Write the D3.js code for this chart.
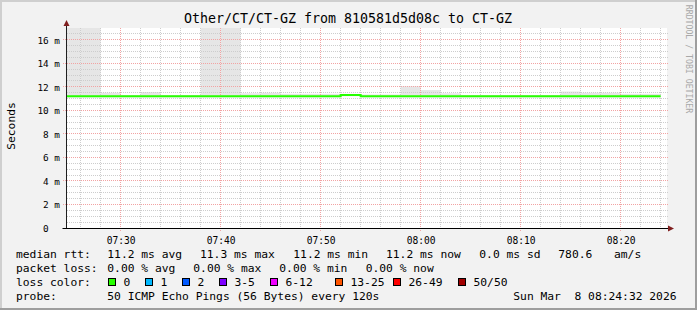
<!DOCTYPE html>
<html>
<head>
<meta charset="utf-8">
<script src="https://cdn.jsdelivr.net/npm/d3@7"></script>
<style>
  body { margin: 0; background: #f2f2f2; }
  svg { display: block; }
  text { font-family: "DejaVu Sans Mono", monospace; white-space: pre; fill: #000; }
</style>
</head>
<body>
<svg id="chart"></svg>
<script>
// one entry per 120s step (start time of the step)
var stepStarts = ["07:24", "07:26", "07:28", "07:30", "07:32", "07:34", "07:36", "07:38", "07:40", "07:42",
                  "07:44", "07:46", "07:48", "07:50", "07:52", "07:54", "07:56", "07:58", "08:00", "08:02",
                  "08:04", "08:06", "08:08", "08:10", "08:12", "08:14", "08:16", "08:18", "08:20", "08:22"];
var medianMs   = [11.2, 11.2, 11.2, 11.2, 11.2, 11.2, 11.2, 11.2, 11.2, 11.2,
                  11.2, 11.2, 11.2, 11.2, 11.3, 11.2, 11.2, 11.2, 11.2, 11.2,
                  11.2, 11.2, 11.2, 11.2, 11.2, 11.2, 11.2, 11.2, 11.2, 11.2];
var smokeLowMs = [11.1, 11.1, 11.1, 11.1, 11.1, 11.1, 11.1, 11.1, 11.1, 11.1,
                  11.1, 11.1, 11.1, 11.1, 11.2, 11.1, 11.1, 11.1, 11.1, 11.1,
                  11.1, 11.1, 11.1, 11.1, 11.1, 11.1, 11.1, 11.1, 11.1, 11.1];
var smokeHighMs = [25, 25, 11.5, 11.3, 11.55, 11.3, 11.3, 25, 25, 11.45,
                   11.5, 11.4, 11.4, 11.4, 11.4, 11.35, 11.35, 12.05, 11.72, 11.45,
                   11.3, 11.3, 11.3, 11.3, 11.3, 11.6, 11.5, 11.5, 11.4, 11.4];

var yTicks = [0, 2, 4, 6, 8, 10, 12, 14, 16];
var xTicks = ["07:30", "07:40", "07:50", "08:00", "08:10", "08:20"];

var lossLabels = ["0", "1", "2", "3-5", "6-12", "13-25", "26-49", "50/50"];
var lossColors = ["#26ff00", "#00b8ff", "#0059ff", "#7e00ff", "#ee00ff", "#ff5500", "#ff0000", "#a10000"];

var title = "Other/CT/CT-GZ from 810581d5d08c to CT-GZ";
var rttStats = ["11.2 ms avg", "11.3 ms max", "11.2 ms min", "11.2 ms now", "0.0 ms sd", "780.6", "am/s"];
var lossStats = ["0.00 % avg", "0.00 % max", "0.00 % min", "0.00 % now"];
var probeText = "50 ICMP Echo Pings (56 Bytes) every 120s";
var stampText = "Sun Mar  8 08:24:32 2026";

var w = 697, h = 310;
var pL = 67, pR = 667, pT = 28, pB = 228;

var parse = d3.utcParse("%Y-%m-%d %H:%M");
function t(s) { return parse("2026-03-08 " + s); }
var tStart = new Date(Date.UTC(2026, 2, 8, 7, 24, 38));
var tEnd = new Date(Date.UTC(2026, 2, 8, 8, 24, 38));
var stepMs = 120000;

var x = d3.scaleUtc().domain([tStart, tEnd]).range([pL, pR]);
var y = d3.scaleLinear().domain([0, 17]).range([pB, pT]);

function px(v) { return Math.round(v - 0.5) + 0.5; }

var svg = d3.select("#chart").attr("width", w).attr("height", h);

// background + 3d frame
svg.append("rect").attr("width", w).attr("height", h).attr("fill", "#f2f2f2");
svg.append("path").attr("d", "M0,1H697M1,0V310").attr("stroke", "#cfcfcf").attr("stroke-width", 2);
svg.append("path").attr("d", "M0,309H697M696,0V310").attr("stroke", "#9e9e9e").attr("stroke-width", 2);

svg.append("rect").attr("x", pL).attr("y", pT).attr("width", pR - pL).attr("height", pB - pT)
  .attr("fill", "#fff");

svg.append("clipPath").attr("id", "plot").append("rect")
  .attr("x", pL).attr("y", pT).attr("width", pR - pL).attr("height", pB - pT);

// smoke
svg.append("g").attr("clip-path", "url(#plot)")
  .selectAll("rect").data(stepStarts).enter().append("rect")
    .attr("x", function (d) { return x(t(d)); })
    .attr("width", function (d) { return x(new Date(+t(d) + stepMs)) - x(t(d)); })
    .attr("y", function (d, i) { return y(smokeHighMs[i]); })
    .attr("height", function (d, i) { return y(smokeLowMs[i]) - y(smokeHighMs[i]); })
    .attr("fill", "#e6e6e6");

// grid (major lines poke out past the axes like rrdtool's)
var grid = svg.append("g").attr("stroke-dasharray", "1,1").attr("stroke-width", 1).attr("fill", "none");
var minorY = d3.range(0.5, 16.6, 0.5).filter(function (v) { return v % 2 !== 0; });
grid.selectAll(".hminor").data(minorY).enter().append("line")
  .attr("x1", pL).attr("x2", pR + 2)
  .attr("y1", function (d) { return px(y(d)); }).attr("y2", function (d) { return px(y(d)); })
  .attr("stroke", "#cdcdcd");
var minorX = d3.utcMinute.every(2).range(t("07:26"), t("08:25")).filter(function (d) { return d.getUTCMinutes() % 10 !== 0; });
grid.selectAll(".vminor").data(minorX).enter().append("line")
  .attr("x1", function (d) { return px(x(d)); }).attr("x2", function (d) { return px(x(d)); })
  .attr("y1", pT).attr("y2", pB)
  .attr("stroke", "#cdcdcd");
grid.selectAll(".hmajor").data(yTicks.slice(1)).enter().append("line")
  .attr("x1", 63).attr("x2", pR + 2)
  .attr("y1", function (d) { return px(y(d)); }).attr("y2", function (d) { return px(y(d)); })
  .attr("stroke", "#f2a3a3");
grid.selectAll(".vmajor").data(xTicks).enter().append("line")
  .attr("x1", function (d) { return px(x(t(d))); }).attr("x2", function (d) { return px(x(t(d))); })
  .attr("y1", pT).attr("y2", pB + 4)
  .attr("stroke", "#f2a3a3");

// median line, coloured by loss (all 0 here)
var pts = stepStarts.map(function (d, i) { return [t(d), medianMs[i]]; });
pts.push([new Date(+t(stepStarts[stepStarts.length - 1]) + stepMs), medianMs[medianMs.length - 1]]);
var line = d3.line().x(function (d) { return x(d[0]); }).y(function (d) { return y(d[1]); }).curve(d3.curveStepAfter);
svg.append("path").attr("clip-path", "url(#plot)").datum(pts).attr("d", line)
  .attr("fill", "none").attr("stroke", lossColors[0]).attr("stroke-width", 2);

// axes
var yAxis = d3.axisLeft(y).tickValues(yTicks).tickSize(0).tickPadding(6)
  .tickFormat(function (d) { return d === 0 ? "0  " : d + " m"; });
var gy = svg.append("g").attr("transform", "translate(" + 66 + ",0)").call(yAxis);
gy.select(".domain").remove();
gy.selectAll("text").attr("font-size", "9.4px").attr("x", -6).attr("dy", "0.36em").attr("fill", "#000");

var xAxis = d3.axisBottom(x).tickValues(xTicks.map(t)).tickSize(0).tickPadding(9)
  .tickFormat(d3.utcFormat("%H:%M"));
var gx = svg.append("g").attr("transform", "translate(0," + pB + ")").call(xAxis);
gx.select(".domain").remove();
gx.selectAll("text").attr("font-size", "9.6px").attr("dy", "0.7em").attr("fill", "#000");

svg.append("path").attr("d", "M66.5,228.5V25").attr("stroke", "#1f1f1f").attr("stroke-width", 1);
svg.append("path").attr("d", "M62.5,228.5H668").attr("stroke", "#000").attr("stroke-width", 1);
svg.append("path").attr("d", "M63.5,26L69.5,26L66.5,20Z").attr("fill", "#801f1f");
svg.append("path").attr("d", "M668,225.5L668,231.5L674,228.5Z").attr("fill", "#801f1f");

// titles
svg.append("text").attr("x", 348).attr("y", 23).attr("text-anchor", "middle").attr("font-size", "13.3px").text(title);
svg.append("text").attr("transform", "translate(14.5,126) rotate(-90)").attr("text-anchor", "middle")
  .attr("font-size", "11.3px").text("Seconds");
svg.append("text").attr("transform", "translate(685.5,59) rotate(90)").attr("text-anchor", "middle")
  .attr("font-size", "8.2px").style("fill", "#a8a8a8").text("RRDTOOL / TOBI OETIKER");

// legend
var lg = svg.append("g").attr("font-size", "11.3px");
function put(tx, xx, yy) { lg.append("text").attr("x", xx).attr("y", yy).text(tx); }
put("median rtt:", 16, 257.5);
[107.3, 200, 293.3, 386, 479.3, 558.3, 614].forEach(function (xx, i) { put(rttStats[i], xx, 257.5); });
put("packet loss:", 16, 271.5);
[107.3, 193.3, 279.3, 365.7].forEach(function (xx, i) { put(lossStats[i], xx, 271.5); });
put("loss color:", 16, 285.5);
var boxX = [108.5, 145.5, 182.5, 219.5, 270.5, 335.5, 393.5, 458.5];
lossLabels.forEach(function (lab, i) {
  lg.append("rect").attr("x", boxX[i]).attr("y", 278.5).attr("width", 7).attr("height", 7)
    .attr("fill", lossColors[i]).attr("stroke", "#000").attr("stroke-width", 1);
  put(lab, boxX[i] + 15, 285.5);
});
put("probe:", 16, 299.5);
put(probeText, 107.3, 299.5);
put(stampText, 513.3, 299.5);
</script>
</body>
</html>
